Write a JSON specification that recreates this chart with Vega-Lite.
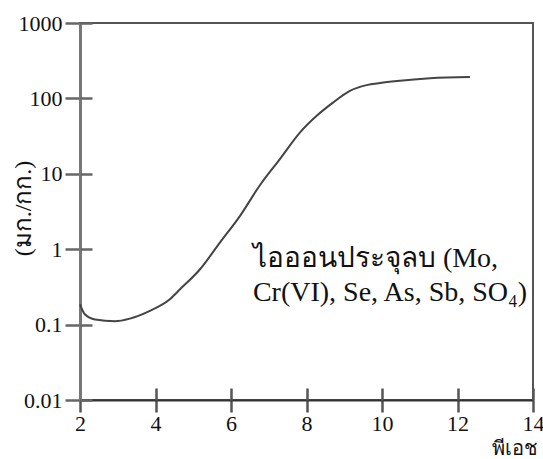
{
  "$schema": "https://vega.github.io/schema/vega-lite/v6.json",
  "width": 453,
  "height": 377,
  "autosize": "none",
  "padding": {"left": 80, "top": 23, "right": 10, "bottom": 59},
  "background": "white",
  "config": {
    "font": "Liberation Serif",
    "view": {"stroke": "#555", "strokeWidth": 2},
    "style": {"guide-label": {"font": "Liberation Serif", "fontSize": 22, "fill": "#111"}},
    "axis": {"labelFont": "Liberation Serif", "labelFontSize": 22, "titleFont": "Liberation Serif", "labelColor": "#111", "titleColor": "#111", "grid": false}
  },
  "datasets": {
    "curve": [
      {"ph": 2.0, "c": 0.186},
      {"ph": 2.13, "c": 0.137},
      {"ph": 2.4, "c": 0.117},
      {"ph": 2.93, "c": 0.111},
      {"ph": 3.32, "c": 0.12},
      {"ph": 3.85, "c": 0.152},
      {"ph": 4.38, "c": 0.217},
      {"ph": 4.65, "c": 0.294},
      {"ph": 5.18, "c": 0.542},
      {"ph": 5.71, "c": 1.23},
      {"ph": 6.24, "c": 2.77},
      {"ph": 6.77, "c": 7.1},
      {"ph": 7.3, "c": 15.8},
      {"ph": 7.83, "c": 35.5},
      {"ph": 8.27, "c": 58.9},
      {"ph": 8.71, "c": 88.7},
      {"ph": 9.15, "c": 126},
      {"ph": 9.59, "c": 150},
      {"ph": 9.95, "c": 160},
      {"ph": 10.4, "c": 170},
      {"ph": 11.27, "c": 185},
      {"ph": 12.33, "c": 192}
    ],
    "labels": [
      {"ph": 6.58, "c": 0.577, "t": "ไอออนประจุลบ (Mo,"},
      {"ph": 6.58, "c": 0.204, "t": "Cr(VI), Se, As, Sb, SO₄)"}
    ]
  },
  "resolve": {"axis": {"x": "independent", "y": "independent"}},
  "layer": [
    {
      "data": {"name": "curve"},
      "mark": {"type": "line", "interpolate": "monotone", "color": "#444", "strokeWidth": 2},
      "encoding": {
        "x": {"field": "ph", "type": "quantitative",
          "scale": {"domain": [2, 14], "nice": false, "zero": false},
          "axis": {"orient": "bottom", "values": [2, 4, 6, 8, 10, 12, 14], "format": "d", "tickSize": 12, "tickWidth": 2.5, "tickColor": "#555", "domainColor": "#333", "domainWidth": 2, "labelFont": "Liberation Serif", "labelFontSize": 22, "labelPadding": 1, "labelFlush": false,
            "title": "พีเอช", "titleFontSize": 20, "titleFontWeight": "normal", "titleAnchor": "end", "titleAlign": "right", "titleX": 457, "titleY": 54, "titleBaseline": "alphabetic"}},
        "y": {"field": "c", "type": "quantitative",
          "scale": {"type": "log", "domain": [0.01, 1000], "nice": false},
          "axis": {"orient": "left", "values": [0.01, 0.1, 1, 10, 100, 1000], "format": "~g", "tickSize": 15, "tickWidth": 2.5, "tickColor": "#666", "domainColor": "#777", "domainWidth": 3, "labelFont": "Liberation Serif", "labelFontSize": 22, "labelPadding": 3, "labelFlush": false,
            "title": "(มก./กก.)", "titleFontSize": 24, "titleFontWeight": "normal", "titleAngle": -90, "titleX": -57, "titleY": 185, "titleAlign": "center", "titleBaseline": "middle"}}
      }
    },
    {
      "data": {"name": "curve"},
      "mark": {"type": "point", "opacity": 0},
      "encoding": {
        "x": {"field": "ph", "type": "quantitative",
          "axis": {"orient": "top", "offset": -377, "values": [2, 4, 6, 8, 10, 12, 14], "labels": false, "domain": false, "tickSize": 12, "tickWidth": 2.5, "tickColor": "#555", "title": null}},
        "y": {"field": "c", "type": "quantitative",
          "axis": {"orient": "right", "offset": -453, "values": [0.01, 0.1, 1, 10, 100, 1000], "labels": false, "domain": false, "tickSize": 12, "tickWidth": 2.5, "tickColor": "#666", "title": null}}
      }
    },
    {
      "data": {"name": "labels"},
      "mark": {"type": "text", "align": "left", "baseline": "alphabetic", "font": "Liberation Serif", "fontSize": 28, "color": "#111"},
      "encoding": {
        "x": {"field": "ph", "type": "quantitative",
          "axis": {"orient": "top", "labels": false, "ticks": false, "domain": false, "title": null}},
        "y": {"field": "c", "type": "quantitative",
          "axis": {"orient": "right", "labels": false, "ticks": false, "domain": false, "title": null}},
        "text": {"field": "t"}
      }
    }
  ]
}
